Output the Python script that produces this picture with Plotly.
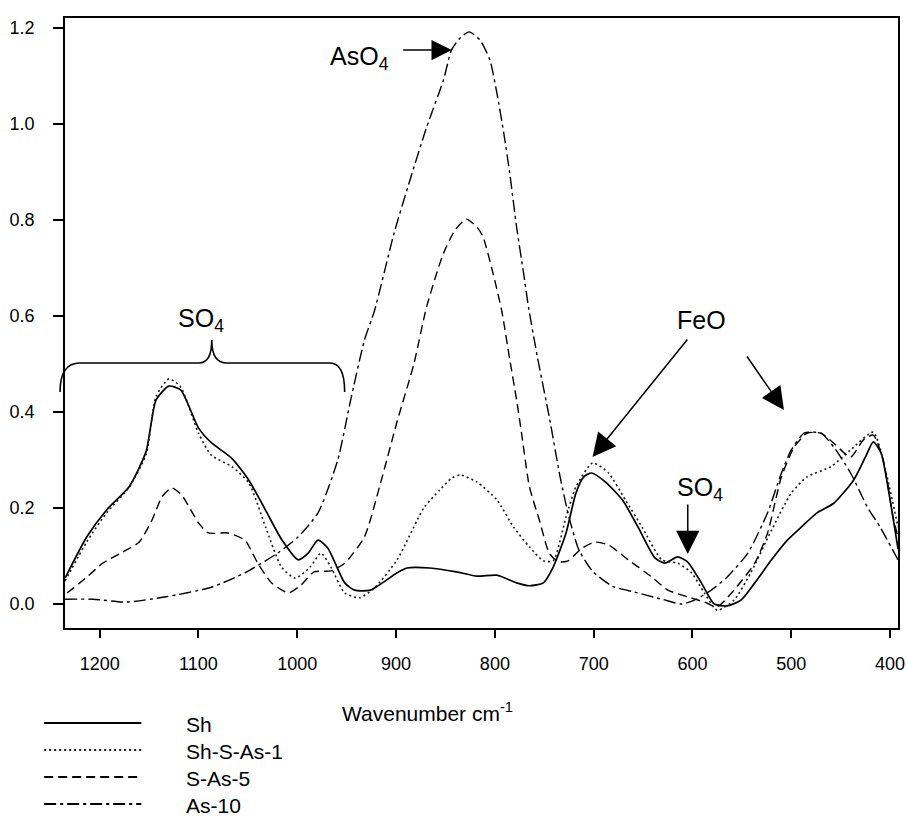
import plotly.graph_objects as go

# ---------------- data ----------------
wn_sh = [1235, 1213, 1193, 1170, 1153, 1143, 1130, 1118, 1100, 1087, 1066, 1049, 1032, 1016, 999, 989,
         979, 969, 952, 942, 926, 899, 889, 866, 839, 818, 798, 778, 765, 751, 741, 728, 718, 710,
         702, 688, 671, 655, 638, 628, 615, 605, 591, 578, 565, 551, 537, 520, 504, 490, 474, 457,
         437, 425, 417, 409, 400, 392]
ab_sh = [0.054, 0.140, 0.196, 0.245, 0.318, 0.425, 0.454, 0.446, 0.367, 0.336, 0.303, 0.258, 0.195, 0.135,
         0.092, 0.106, 0.133, 0.116, 0.044, 0.029, 0.029, 0.065, 0.075, 0.075, 0.067, 0.058, 0.060, 0.044,
         0.038, 0.044, 0.077, 0.148, 0.231, 0.265, 0.273, 0.254, 0.217, 0.160, 0.096, 0.085, 0.098, 0.088,
         0.044, 0.000, -0.004, 0.008, 0.044, 0.092, 0.133, 0.160, 0.190, 0.210, 0.258, 0.306, 0.338, 0.314,
         0.217, 0.115]

wn_s1 = [1235, 1213, 1193, 1170, 1153, 1143, 1130, 1118, 1100, 1087, 1066, 1049, 1032, 1016, 1002, 987,
         976, 966, 952, 937, 922, 899, 872, 856, 844, 835, 818, 798, 781, 765, 751, 741, 728, 718, 701,
         685, 668, 651, 631, 615, 601, 588, 575, 558, 541, 520, 500, 484, 460, 440, 417, 404, 392]
ab_s1 = [0.048, 0.130, 0.190, 0.244, 0.312, 0.432, 0.469, 0.452, 0.356, 0.310, 0.286, 0.252, 0.160, 0.077,
         0.054, 0.077, 0.106, 0.077, 0.023, 0.013, 0.033, 0.092, 0.200, 0.237, 0.262, 0.269, 0.254, 0.217,
         0.160, 0.119, 0.090, 0.090, 0.181, 0.244, 0.294, 0.273, 0.217, 0.160, 0.092, 0.085, 0.065, 0.023,
         -0.013, 0.008, 0.065, 0.154, 0.231, 0.265, 0.286, 0.321, 0.358, 0.273, 0.160]

wn_s5 = [1233, 1213, 1197, 1177, 1160, 1147, 1137, 1127, 1117, 1100, 1090, 1070, 1053, 1040, 1026, 1009,
         996, 983, 966, 952, 932, 916, 899, 882, 869, 852, 840, 829, 818, 812, 802, 793, 785, 778, 773,
         765, 755, 745, 736, 726, 712, 699, 685, 665, 641, 625, 605, 588, 575, 558, 537, 524, 510, 497,
         484, 470, 457, 440, 427, 417, 407, 397, 392]
ab_s5 = [0.023, 0.056, 0.085, 0.108, 0.129, 0.175, 0.223, 0.242, 0.227, 0.169, 0.148, 0.148, 0.133, 0.085,
         0.044, 0.023, 0.040, 0.067, 0.069, 0.085, 0.140, 0.250, 0.380, 0.500, 0.620, 0.731, 0.780, 0.802,
         0.785, 0.765, 0.690, 0.610, 0.510, 0.425, 0.356, 0.244, 0.175, 0.106, 0.088, 0.090, 0.116, 0.129,
         0.123, 0.092, 0.056, 0.029, 0.015, 0.004, -0.006, 0.029, 0.085, 0.148, 0.265, 0.327, 0.356, 0.356,
         0.335, 0.306, 0.342, 0.352, 0.300, 0.181, 0.140]

wn_a10 = [1235, 1207, 1173, 1133, 1087, 1053, 1020, 999, 979, 959, 946, 932, 922, 902, 886, 869, 852, 844,
          835, 826, 815, 805, 798, 791, 785, 778, 771, 766, 757, 745, 734, 725, 715, 701, 681, 659, 631,
          611, 598, 581, 565, 544, 524, 510, 500, 487, 470, 457, 440, 423, 410, 392]
ab_a10 = [0.010, 0.010, 0.004, 0.015, 0.035, 0.065, 0.106, 0.140, 0.190, 0.300, 0.425, 0.550, 0.610, 0.773,
          0.883, 0.994, 1.092, 1.154, 1.180, 1.192, 1.175, 1.133, 1.065, 0.981, 0.898, 0.785, 0.690, 0.619,
          0.515, 0.390, 0.265, 0.181, 0.113, 0.068, 0.037, 0.025, 0.010, 0.000, 0.008, 0.029, 0.056, 0.106,
          0.190, 0.273, 0.321, 0.356, 0.356, 0.327, 0.273, 0.202, 0.160, 0.092]

series_names = ["Sh", "Sh-S-As-1", "S-As-5", "As-10"]
x_ticks = [1200, 1100, 1000, 900, 800, 700, 600, 500, 400]
y_ticks = [0.0, 0.2, 0.4, 0.6, 0.8, 1.0, 1.2]

# ---------------- styles ----------------
FONT = "Arial, Liberation Sans, sans-serif"
styles = [
    dict(color="black", width=1.7, dash="solid"),
    dict(color="#1a1a1a", width=1.6, dash="2px,3px"),
    dict(color="black", width=1.4, dash="9px,5px"),
    dict(color="black", width=1.4, dash="12px,4px,3px,4px"),
]
xs = [wn_sh, wn_s1, wn_s5, wn_a10]
ys = [ab_sh, ab_s1, ab_s5, ab_a10]

fig = go.Figure()
for name, x, y, st in zip(series_names, xs, ys, styles):
    fig.add_trace(go.Scatter(x=x, y=y, mode="lines", name=name, showlegend=False,
                             line=dict(color=st["color"], width=st["width"], dash=st["dash"],
                                       shape="spline", smoothing=0.6)))

# plot area: x 65..905 px, y 18..628 px
def px(xp):
    return (xp - 65) / 840.0

def py(yp):
    return (628 - yp) / 610.0

shapes = []
annotations = []

# legend drawn below the axes
leg_rows = [723, 750, 777, 804]
for name, st, r in zip(series_names, styles, leg_rows):
    shapes.append(dict(type="line", xref="paper", yref="paper", x0=px(44), x1=px(142),
                       y0=py(r), y1=py(r),
                       line=dict(color=st["color"], width=st["width"] + 0.5, dash=st["dash"])))
    annotations.append(dict(xref="paper", yref="paper", x=px(185), y=py(r + 1), xanchor="left",
                            yanchor="middle", text=name, showarrow=False,
                            font=dict(family=FONT, size=21, color="black")))

# x-axis title
annotations.append(dict(xref="paper", yref="paper", x=px(342), y=py(712), xanchor="left",
                        yanchor="middle", text="Wavenumber cm<sup>-1</sup>", showarrow=False,
                        font=dict(family=FONT, size=21, color="black")))

# SO4 brace (upper left)
brace = ("M {a},{b} Q {a},{c} {d},{c} L {e},{c} Q {f},{c} {f},{g} Q {f},{c} {h},{c} "
         "L {i},{c} Q {j},{c} {j},{b}").format(
    a=px(60), b=py(392), c=py(363), d=px(80), e=px(200), f=px(213), g=py(340), h=px(228),
    i=px(332), j=px(347))
shapes.append(dict(type="path", xref="paper", yref="paper", path=brace,
                   line=dict(color="black", width=1.6)))

lab_font = dict(family=FONT, size=25, color="black")
def label(x, y, text):
    return dict(xref="paper", yref="paper", x=px(x), y=py(y), xanchor="center",
                yanchor="middle", text=text, showarrow=False, font=lab_font)

annotations += [
    label(202, 320, "SO<sub>4</sub>"),
    label(362, 58, "AsO<sub>4</sub>"),
    label(707, 320, "FeO"),
    label(705, 489, "SO<sub>4</sub>"),
]

def arrow(x0, y0, x1, y1, size=2.6):
    # head at (x1, y1) in page pixels, tail offset in pixels
    return dict(xref="paper", yref="paper", x=px(x1), y=py(y1), ax=x0 - x1, ay=y0 - y1,
                text="", showarrow=True, arrowhead=2, arrowsize=size, arrowwidth=1.5,
                arrowcolor="black")

annotations += [
    arrow(405, 50, 455, 50, 2.7),
    arrow(693, 338, 597, 457, 3.1),
    arrow(752, 355, 790, 410, 3.0),
    arrow(693, 503, 693, 554, 3.1),
]

fig.update_layout(
    width=907, height=823,
    margin=dict(l=65, r=2, t=18, b=195),
    paper_bgcolor="white", plot_bgcolor="white",
    font=dict(family=FONT, size=18, color="black"),
    showlegend=False,
    xaxis=dict(range=[1235.1, 392.0], tickvals=x_ticks, ticks="outside", ticklen=8, tickwidth=1.5,
               tickcolor="black", showline=True, linewidth=1.6, linecolor="black", mirror=True,
               showgrid=False, zeroline=False, tickfont=dict(size=18), ticklabelstandoff=11,
               ticklabeloverflow="allow"),
    yaxis=dict(range=[-0.05, 1.221], tickvals=y_ticks, tickformat=".1f", ticks="outside",
               ticklen=10, tickwidth=1.5, tickcolor="black", showline=True, linewidth=1.6,
               linecolor="black", mirror=True, showgrid=False, zeroline=False,
               tickfont=dict(size=18), ticklabelstandoff=15),
    shapes=shapes, annotations=annotations,
)

fig.write_html("out.html")
